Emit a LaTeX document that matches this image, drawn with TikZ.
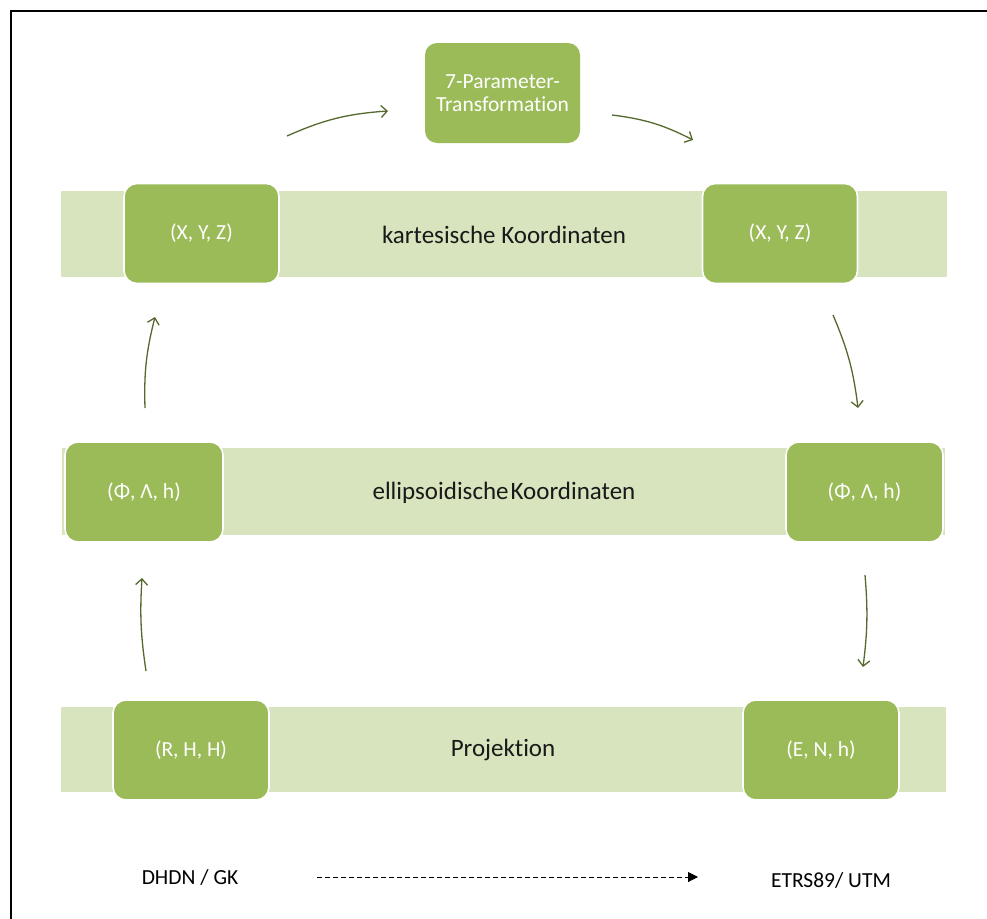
\documentclass[tikz,border=0pt]{standalone}
\usepackage{fontspec}
\setmainfont{Carlito}[Ligatures=NoCommon]
\usetikzlibrary{arrows.meta}
\definecolor{boxgreen}{HTML}{9BBB59}
\definecolor{bargreen}{HTML}{D7E4BD}
\definecolor{arrowgreen}{HTML}{55692F}
\tikzset{
  bar/.style={fill=bargreen, draw=none},
  coordbox/.style={draw=white, line width=1.6pt, fill=boxgreen, rounded corners=13pt,
    minimum width=155pt, minimum height=100pt, inner sep=0pt, text=white,
    font=\fontsize{21.5}{23}\selectfont, align=center},
  barlabel/.style={text=black!90, font=\fontsize{25}{27}\selectfont, inner sep=0pt},
  systemlabel/.style={text=black, font=\fontsize{21.5}{23}\selectfont, inner sep=0pt},
  flow/.style={draw=arrowgreen, line width=1.3pt,
    -{Straight Barb[length=6pt,width=12pt,line width=1.3pt]}},
}
\begin{document}
\begin{tikzpicture}[x=1pt,y=-1pt]
  \useasboundingbox (0,0) rectangle (987,918);
  \fill[white] (0,0) rectangle (987,918);
  % page frame (only the left and top edges fall inside)
  \draw[line width=1.8pt] (11,930) -- (11,11) -- (1000,11);

  % background bands
  \fill[bar] (61,191) rectangle (947,277);
  \fill[bar] (62,448) rectangle (945,535);
  \fill[bar] (61,707) rectangle (946,792);

  % band labels
  \node[barlabel] (kart) at (504,235) {kartesische Koordinaten};
  \node[barlabel] (ell) at (504,493) {ellipsoidische\hspace{0.08em}Koordinaten};
  \node[barlabel] (proj) at (503,750) {Projektion};

  % coordinate boxes
  \node[coordbox] (xyzL) at (201.5,233.5) {(X, Y, Z)};
  \node[coordbox] (xyzR) at (780,233.5) {(X, Y, Z)};
  \node[coordbox, minimum width=158pt] (ellL) at (144,492) {(Φ, Λ, h)};
  \node[coordbox, minimum width=157pt] (ellR) at (864.5,492) {(Φ, Λ, h)};
  \node[coordbox, minimum width=156pt] (rhh) at (191,750) {(R, H, H)};
  \node[coordbox, minimum width=156pt] (enh) at (821,750) {(E, N, h)};
  \node[coordbox, line width=0pt, draw=none, rounded corners=12pt] (helmert) at (502.5,93)
    {7-Parameter-\\Transformation};

  % arrow end points
  \coordinate (a1s) at (287,136);
  \coordinate (a1e) at (388,111);
  \coordinate (a2s) at (612,115);
  \coordinate (a2e) at (693,140);
  \coordinate (a3s) at (833,315);
  \coordinate (a3e) at (858,408);
  \coordinate (a4s) at (865,575);
  \coordinate (a4e) at (863,667);
  \coordinate (a5s) at (146,671);
  \coordinate (a5e) at (142,578);
  \coordinate (a6s) at (145,408);
  \coordinate (a6e) at (155,317);

  % transformation cycle
  \draw[flow] (a1s) to[bend left=10] (a1e);
  \draw[flow] (a2s) to[bend left=10] (a2e);
  \draw[flow] (a3s) to[bend left=8] (a3e);
  \draw[flow] (a4s) to[bend left=6] (a4e);
  \draw[flow] (a5s) to[bend left=6] (a5e);
  \draw[flow] (a6s) to[bend left=8] (a6e);

  % reference systems
  \node[systemlabel] (dhdn) at (190,877) {DHDN / GK};
  \node[systemlabel] (etrs) at (831,880) {ETRS89/ UTM};
  \coordinate (dashs) at (317,877);
  \coordinate (dashe) at (698,877);
  \draw[line width=1pt, dash pattern=on 5pt off 3pt,
    -{Triangle[length=10pt,width=10pt]}] (dashs) -- (dashe);
\end{tikzpicture}
\end{document}
